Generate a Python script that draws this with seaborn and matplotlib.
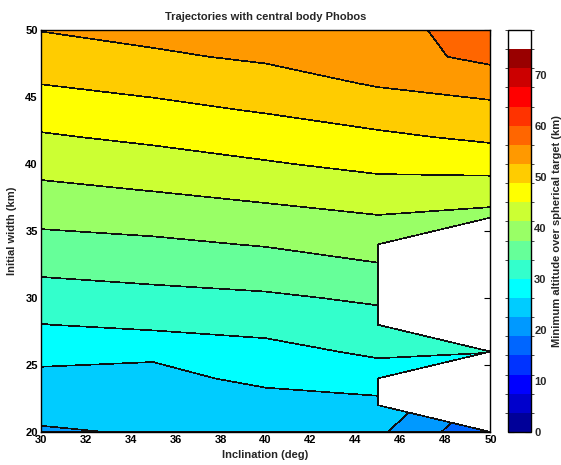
import numpy as np
import matplotlib
matplotlib.use("Agg")
import matplotlib.pyplot as plt
import matplotlib.cm as cm
from matplotlib.colors import ListedColormap, BoundaryNorm
import seaborn as sns

# Grid of simulated trajectories
inclination = [30, 35, 40, 45, 50]                       # deg
initial_width = [20, 22, 24, 26, 28, 30, 32, 34,
                 36, 38, 40, 42, 44, 46, 48, 50]         # km

# Minimum altitude over the spherical target (km), one list per inclination.
# NaN marks runs that did not return a valid minimum.
alt_inc30 = [22.1, 23.8, 25.3, 27.5, 29.9, 32.1, 34.2, 36.3,
             38.4, 40.4, 42.5, 44.6, 46.7, 48.8, 50.7, 52.6]
alt_inc35 = [22.8, 24.2, 25.7, 26.6, 30.9, 32.7, 34.8, 36.9,
             38.9, 41.3, 43.4, 45.7, 47.8, 49.8, 52.0, 53.5]
alt_inc40 = [23.8, 25.4, 26.7, 28.9, 31.1, 33.2, 35.5, 37.7,
             40.0, 42.3, 44.7, 46.8, 49.0, 51.0, 53.0, 55.0]
alt_inc45 = [23.2, 25.2, 28.2, 30.6, 32.3, 34.3, 36.8, 39.0,
             41.0, 43.5, 45.9, 48.1, 50.5, 52.8, 54.4, 55.5]
alt_inc50 = [15.3, np.nan, np.nan, 30.1, np.nan, np.nan, np.nan, np.nan,
             40.0, 43.2, 46.4, 49.4, 51.8, 53.6, 57.4, 57.2]

cbar_ticks = [0, 10, 20, 30, 40, 50, 60, 70]

# jet(20) followed by white, spread over 0 .. 78.75 km
band_colors = ["#000099", "#0000CC", "#0000FF", "#0033FF", "#0066FF",
               "#0099FF", "#00CCFF", "#00FFFF", "#33FFCC", "#66FF99",
               "#99FF66", "#CCFF33", "#FFFF00", "#FFCC00", "#FF9900",
               "#FF6600", "#FF3300", "#FF0000", "#CC0000", "#990000",
               "#FFFFFF"]
levels = np.linspace(0.0, 78.75, len(band_colors) + 1)
cmap = ListedColormap(band_colors)
norm = BoundaryNorm(levels, cmap.N)

sns.set_style("white")
plt.rcParams["font.family"] = ["Liberation Sans", "DejaVu Sans"]
plt.rcParams["font.size"] = 8

Z = np.ma.masked_invalid(np.column_stack(
    [alt_inc30, alt_inc35, alt_inc40, alt_inc45, alt_inc50]))

fig = plt.figure(figsize=(5.61, 4.65), dpi=100)
ax = fig.add_axes([0.0722, 0.0710, 0.8021, 0.8645])
cax = fig.add_axes([0.9064, 0.0710, 0.0410, 0.8645])

cs = ax.contourf(inclination, initial_width, Z, levels=levels,
                 cmap=cmap, norm=norm, corner_mask=True)
cs.set_edgecolor("#111111")
cs.set_linewidth(0.45)

ax.set_xlim(30, 50)
ax.set_ylim(20, 50)
ax.set_xticks(np.arange(30, 51, 2))
ax.set_yticks(np.arange(20, 51, 5))
ax.tick_params(direction="in", length=4, width=0.8, top=True, right=True,
               labelsize=8, pad=2, colors="black")
for lab in ax.get_xticklabels() + ax.get_yticklabels():
    lab.set_fontweight("bold")
for sp in ax.spines.values():
    sp.set_visible(True)
    sp.set_color("black")
    sp.set_linewidth(1.0)

ax.set_title("Trajectories with central body Phobos", fontsize=8,
             fontweight="bold", pad=7)
ax.set_xlabel("Inclination (deg)", fontsize=8, fontweight="bold", labelpad=4)
ax.set_ylabel("Initial width (km)", fontsize=8, fontweight="bold", labelpad=6)

cb = fig.colorbar(cm.ScalarMappable(norm=norm, cmap=cmap), cax=cax,
                  ticks=cbar_ticks)
cb.outline.set_linewidth(1.0)
cb.outline.set_edgecolor("black")
cax.yaxis.set_ticks_position("both")
cax.tick_params(direction="in", length=4, width=0.8, labelsize=8, pad=2,
                labelleft=False, labelright=True)
for lab in cax.get_yticklabels():
    lab.set_fontweight("bold")
cb.set_label("Minimum altitude over spherical target (km)", fontsize=8,
             fontweight="bold", labelpad=4)

fig.savefig("out.png", dpi=100, facecolor="white")
